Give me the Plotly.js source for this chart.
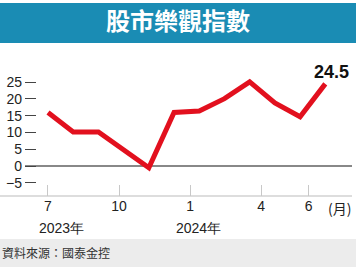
<!DOCTYPE html>
<html>
<head>
<meta charset="utf-8">
<script src="https://cdn.plot.ly/plotly-3.0.1.min.js"></script>
<style>
  html, body { margin: 0; padding: 0; background: #fff; }
  #chart { width: 356px; height: 272px; }
</style>
</head>
<body>
<div id="chart"></div>
<script>
// ---- data ----
const months = ['2023-07','2023-08','2023-09','2023-10','2023-11','2023-12',
                '2024-01','2024-02','2024-03','2024-04','2024-05','2024-06'];
const optimismIndex = [16.0, 10.2, 10.2, 5.0, -0.5, 16.0, 16.4, 20.1, 25.1, 18.8, 14.7, 24.5];
const monthTickIndex = [0, 3, 6, 9, 11];
const monthTickText = ['7', '10', '1', '4', '6'];
const yTickVals = [-5, 0, 5, 10, 15, 20, 25];
const yearLabels = ['2023年', '2024年'];
const yearLabelIndex = [0, 6];
const titleText = '股市樂觀指數';
const sourceText = '資料來源：國泰金控';
const unitText = '(月)';

// ---- build ----
const xIdx = months.map((m, i) => i);
const last = optimismIndex.length - 1;

const W = 356, H = 272;
const mL = 25, mR = 4, mT = 56, mB = 76;
const plotW = W - mL - mR, plotH = H - mT - mB;
const px2paperX = px => (px - mL) / plotW;
const px2paperY = py => (H - mB - py) / plotH;

const cjk = '"Noto Sans CJK TC", "Noto Sans CJK SC", sans-serif';
const latin = '"Liberation Sans", Arial, sans-serif';

const traces = [
  {
    x: xIdx, y: optimismIndex, type: 'scatter', mode: 'lines',
    line: { color: '#e2101e', width: 5, shape: 'linear' },
    xaxis: 'x', yaxis: 'y', hoverinfo: 'skip', showlegend: false
  },
  {
    x: [], y: [], type: 'scatter', mode: 'lines',
    xaxis: 'x2', yaxis: 'y', hoverinfo: 'skip', showlegend: false
  }
];

const annotations = [
  {
    xref: 'x', yref: 'y', x: last, y: optimismIndex[last],
    text: '<b>' + optimismIndex[last].toFixed(1) + '</b>',
    showarrow: false, xanchor: 'center', yanchor: 'middle',
    xshift: 6, yshift: 12,
    font: { family: latin, size: 18, color: '#111' }
  },
  {
    xref: 'x2', yref: 'paper', x: monthTickIndex[monthTickIndex.length - 1], y: 0,
    text: unitText, showarrow: false, xanchor: 'center', yanchor: 'middle',
    xshift: 31, yshift: -12,
    font: { family: cjk, size: 14, color: '#222' }
  },
  {
    xref: 'paper', yref: 'paper', x: px2paperX(0), y: px2paperY(252),
    text: sourceText, showarrow: false, xanchor: 'left', yanchor: 'middle',
    font: { family: cjk, size: 12, color: '#333' }
  }
];
yearLabels.forEach((t, i) => {
  annotations.push({
    xref: 'x2', yref: 'paper', x: yearLabelIndex[i], y: 0,
    text: t, showarrow: false, xanchor: 'center', yanchor: 'middle',
    xshift: i === 0 ? 13.5 : 8.5, yshift: -32,
    font: { family: latin, size: 14, color: '#222' }
  });
});

const shapes = [
  { type: 'rect', xref: 'paper', yref: 'paper', layer: 'below',
    x0: px2paperX(0), x1: px2paperX(W), y0: px2paperY(3), y1: px2paperY(43),
    fillcolor: '#1a8cb4', line: { width: 0 } },
  { type: 'rect', xref: 'paper', yref: 'paper', layer: 'below',
    x0: px2paperX(0), x1: px2paperX(W), y0: px2paperY(239), y1: px2paperY(267),
    fillcolor: '#ececec', line: { width: 0 } },
  { type: 'line', xref: 'paper', yref: 'paper', layer: 'below',
    x0: px2paperX(0), x1: 1, y0: 0, y1: 0,
    line: { color: '#bbbbbb', width: 1 } }
];

const layout = {
  width: W, height: H,
  margin: { l: mL, r: mR, t: mT, b: mB, pad: 0 },
  paper_bgcolor: '#ffffff', plot_bgcolor: 'rgba(0,0,0,0)',
  showlegend: false,
  title: {
    text: '<b>' + titleText + '</b>',
    x: 0.5, xref: 'container', xanchor: 'center',
    y: 1 - 22 / H, yref: 'container', yanchor: 'middle',
    font: { family: cjk, size: 24, color: '#ffffff' }
  },
  xaxis: {
    range: [-0.913, 12.06], visible: false, fixedrange: true
  },
  xaxis2: {
    overlaying: 'x', anchor: 'y', side: 'bottom',
    range: [-0.97, 12.83],
    tickmode: 'array', tickvals: monthTickIndex, ticktext: monthTickText,
    ticks: 'inside', ticklen: 11, tickwidth: 1, tickcolor: '#c8c8c8',
    showgrid: false, zeroline: false, showline: false,
    tickfont: { family: latin, size: 14, color: '#222' },
    ticklabelstandoff: 0
  },
  yaxis: {
    range: [-8.9, 32.8],
    tickmode: 'array', tickvals: yTickVals,
    ticks: 'inside', ticklen: 11, tickwidth: 1, tickcolor: '#444',
    showgrid: false, showline: false,
    zeroline: true, zerolinecolor: '#888888', zerolinewidth: 1.5,
    tickfont: { family: latin, size: 14, color: '#222' },
    ticklabelstandoff: 2
  },
  shapes: shapes,
  annotations: annotations
};

Plotly.newPlot('chart', traces, layout, { staticPlot: true, displayModeBar: false });
</script>
</body>
</html>
